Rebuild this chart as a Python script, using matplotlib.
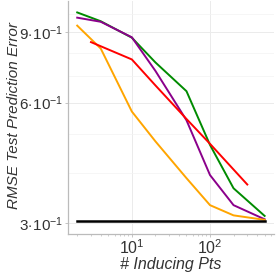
import numpy as np
import matplotlib
matplotlib.use('Agg')
import matplotlib.pyplot as plt
from matplotlib.ticker import FixedLocator, NullFormatter

plt.rcParams['font.family'] = ['Liberation Sans', 'DejaVu Sans']
plt.rcParams['mathtext.fontset'] = 'custom'
plt.rcParams['mathtext.rm'] = 'Liberation Sans'
plt.rcParams['mathtext.it'] = 'Liberation Sans:italic'

# inducing points per series
x_full = [2, 4, 10, 20, 50, 100, 200, 500]
x_red = [3, 10, 20, 50, 100, 300]

# RMSE values
green = [1.01, 0.96, 0.873, 0.757, 0.641, 0.47, 0.366, 0.312]
purple = [0.98, 0.957, 0.875, 0.721, 0.542, 0.395, 0.332, 0.306]
orange = [0.936, 0.82, 0.57, 0.48, 0.388, 0.332, 0.313, 0.305]
red = [0.851, 0.77, 0.663, 0.546, 0.473, 0.374]
black_x = [2, 500]
black = [0.303, 0.303]

y_ticks = [0.3, 0.6, 0.9]
y_labels = [r'$3\!\cdot\!10^{-1}$', r'$6\!\cdot\!10^{-1}$', r'$9\!\cdot\!10^{-1}$']
y_minor = [0.4, 0.5, 0.7, 0.8, 1.0]
x_ticks = [10, 100]
x_labels = [r'$10^{1}$', r'$10^{2}$']

fig = plt.figure(figsize=(2.76, 2.76), dpi=100)
ax = fig.add_axes([0.246, 0.152, 0.747, 0.845])

lw = 1.4
ax.plot(black_x, black, color='black', lw=1.8, zorder=3)
ax.plot(x_full, green, color='#008B00', lw=lw)
ax.plot(x_full, purple, color='#8B008B', lw=lw)
ax.plot(x_full, orange, color='#FFA500', lw=lw)
ax.plot(x_red, red, color='red', lw=lw)

ax.set_xscale('log')
ax.set_yscale('log')
ax.set_xlim(1.52, 660)
ax.set_ylim(0.281, 1.08)

ax.yaxis.set_major_locator(FixedLocator(y_ticks))
ax.set_yticklabels(y_labels)
ax.yaxis.set_minor_locator(FixedLocator(y_minor))
ax.yaxis.set_minor_formatter(NullFormatter())
ax.xaxis.set_major_locator(FixedLocator(x_ticks))
ax.set_xticklabels(x_labels)
x_minor = [m * d for d in [1, 10, 100] for m in range(2, 10)]
ax.xaxis.set_minor_locator(FixedLocator(x_minor))
ax.xaxis.set_minor_formatter(NullFormatter())

ax.grid(True, which='major', color='#EBEBEB', lw=0.7)
ax.grid(True, which='minor', axis='y', color='#F3F3F3', lw=0.5)
ax.set_axisbelow(True)

for s in ['top', 'right']:
    ax.spines[s].set_visible(False)
for s in ['left', 'bottom']:
    ax.spines[s].set_color('#BBBBBB')
    ax.spines[s].set_linewidth(0.9)

ax.tick_params(axis='y', which='major', labelsize=11, colors='#BBBBBB',
               labelcolor='#333333', length=2, width=0.6, pad=1)
ax.tick_params(axis='x', which='major', labelsize=11.5, colors='#BBBBBB',
               labelcolor='#333333', length=2, width=0.6, pad=1)
ax.tick_params(axis='x', which='minor', colors='#BBBBBB', length=1.5, width=0.5)
ax.tick_params(axis='y', which='minor', length=0)

ax.set_xlabel('# Inducing Pts', fontsize=11.5, style='italic', color='#333333', labelpad=0)
ax.set_ylabel('RMSE Test Prediction Error', fontsize=11, style='italic', color='#333333')
ax.yaxis.set_label_coords(-0.228, 0.51)

fig.savefig('out.png', dpi=100)
